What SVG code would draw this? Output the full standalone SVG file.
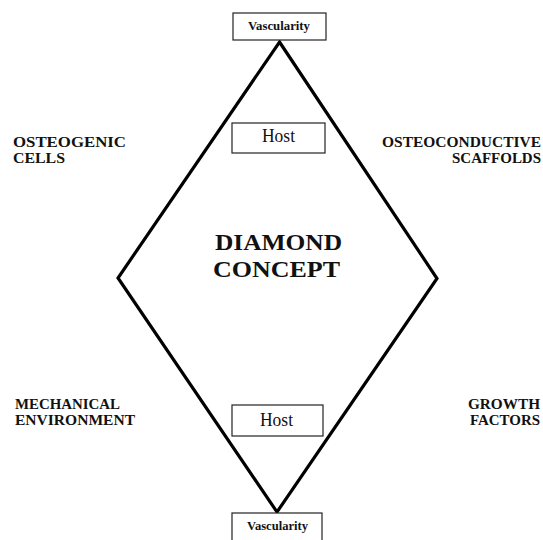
<svg xmlns="http://www.w3.org/2000/svg" width="543" height="540" viewBox="0 0 543 540">
<style>
.box{fill:#fff;stroke:#222;stroke-width:1.2}
.lbl{font-family:"Liberation Serif","Times New Roman",serif;font-weight:bold;font-size:15.5px;fill:#111}
.vas{font-family:"Liberation Serif","Times New Roman",serif;font-weight:bold;font-size:12.5px;fill:#111}
.host{font-family:"Liberation Serif","Times New Roman",serif;font-size:18px;fill:#111}
.title{font-family:"Liberation Serif","Times New Roman",serif;font-weight:bold;font-size:24px;fill:#111}
.edge{fill:none;stroke:#000;stroke-width:3.2;stroke-linejoin:miter}
</style>
<rect width="543" height="540" fill="#fff"/>
<g id="connectors">
<polygon class="edge" points="279.5,42 437,278.5 277,512 118,278"/>
</g>
<g id="vascularity-top">
<rect class="box" x="233" y="13" width="93" height="27"/>
<text class="vas" x="248" y="30" textLength="62" lengthAdjust="spacingAndGlyphs">Vascularity</text>
</g>
<g id="host-top">
<rect class="box" x="232" y="123" width="93" height="30"/>
<text class="host" x="262" y="142" textLength="33" lengthAdjust="spacingAndGlyphs">Host</text>
</g>
<g id="host-bottom">
<rect class="box" x="232" y="405" width="91" height="31"/>
<text class="host" x="260" y="426" textLength="33" lengthAdjust="spacingAndGlyphs">Host</text>
</g>
<g id="vascularity-bottom">
<rect class="box" x="232" y="513" width="90" height="30"/>
<text class="vas" x="247" y="530" textLength="61" lengthAdjust="spacingAndGlyphs">Vascularity</text>
</g>
<g id="diamond-concept">
<text class="title" x="215" y="250" textLength="127" lengthAdjust="spacingAndGlyphs">DIAMOND</text>
<text class="title" x="213" y="277" textLength="127" lengthAdjust="spacingAndGlyphs">CONCEPT</text>
</g>
<g id="osteogenic-cells">
<text class="lbl" x="13" y="147" textLength="113" lengthAdjust="spacingAndGlyphs">OSTEOGENIC</text>
<text class="lbl" x="13" y="163" textLength="52" lengthAdjust="spacingAndGlyphs">CELLS</text>
</g>
<g id="osteoconductive-scaffolds">
<text class="lbl" x="382" y="147" textLength="159" lengthAdjust="spacingAndGlyphs">OSTEOCONDUCTIVE</text>
<text class="lbl" x="452" y="163" textLength="89" lengthAdjust="spacingAndGlyphs">SCAFFOLDS</text>
</g>
<g id="mechanical-environment">
<text class="lbl" x="15" y="409" textLength="105" lengthAdjust="spacingAndGlyphs">MECHANICAL</text>
<text class="lbl" x="15" y="425" textLength="120" lengthAdjust="spacingAndGlyphs">ENVIRONMENT</text>
</g>
<g id="growth-factors">
<text class="lbl" x="468" y="409" textLength="72" lengthAdjust="spacingAndGlyphs">GROWTH</text>
<text class="lbl" x="470" y="425" textLength="70" lengthAdjust="spacingAndGlyphs">FACTORS</text>
</g>
</svg>
